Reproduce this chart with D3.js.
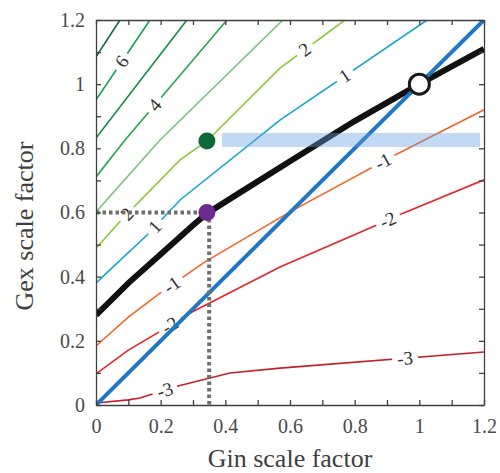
<!DOCTYPE html>
<meta charset="UTF-8">
<svg width="500" height="473"></svg>
<style>
body { margin: 0; }
svg { font-family: "Liberation Serif", "Times New Roman", serif; background: #fff; }
.axis text { font-family: "Liberation Serif", serif; font-size: 20px; fill: #4a4a4a; }
.axis path, .axis line { stroke: #404040; stroke-width: 1.3px; }
.title { font-family: "Liberation Serif", serif; font-size: 26px; fill: #404040; }
.clabel { font-family: "Liberation Serif", serif; font-size: 19px; fill: #333; }
.contour { fill: none; stroke-width: 1.6px; }
</style>
<script src="https://d3js.org/d3.v7.min.js"></script>
<script>
// axis ticks
var tickVals = [0, 0.1, 0.2, 0.3, 0.4, 0.5, 0.6, 0.7, 0.8, 0.9, 1, 1.1, 1.2];
var tickLabels = [0, 0.2, 0.4, 0.6, 0.8, 1, 1.2];

// contour lines, [Gin, Gex] points
var lvl7 = [[0, 1.085], [0.074, 1.2]];
var lvl6 = [[0, 0.951], [0.167, 1.2]];
var lvl5 = [[0, 0.832], [0.281, 1.2]];
var lvl4 = [[0, 0.711], [0.09, 0.826], [0.405, 1.2]];
var lvl3 = [[0, 0.602], [0.198, 0.826], [0.578, 1.2]];
var lvl2 = [[0, 0.489], [0.084, 0.583], [0.26, 0.764], [0.343, 0.823], [0.569, 1.05], [0.77, 1.2]];
var lvl1 = [[0, 0.38], [0.043, 0.421], [0.158, 0.53], [0.26, 0.639], [0.569, 0.888], [1.024, 1.2]];
var lvlM1 = [[0, 0.184], [0.1, 0.274], [0.2, 0.35], [0.337, 0.446], [0.6, 0.602], [0.925, 0.779], [1.2, 0.92]];
var lvlM2 = [[0, 0.097], [0.1, 0.171], [0.189, 0.224], [0.297, 0.29], [0.569, 0.43], [0.869, 0.561], [0.95, 0.598], [1.2, 0.702]];
var lvlM3 = [[0, 0.006], [0.1, 0.016], [0.136, 0.022], [0.254, 0.059], [0.414, 0.1], [0.569, 0.115], [1.2, 0.165]];

// zero line (thick black)
var zeroLine = [[0, 0.28], [0.1, 0.38], [0.2, 0.47], [0.3, 0.56], [0.343, 0.597], [0.45, 0.665], [0.6, 0.76], [0.8, 0.885], [1, 1], [1.2, 1.11]];
// identity line
var identity = [[0, 0], [1.2, 1.2]];

// level, x of label
var contourLabels = [[6, 0.08], [4, 0.182], [2, 0.096], [2, 0.646], [1, 0.182], [1, 0.77],
    [-1, 0.235], [-1, 0.888], [-2, 0.229], [-2, 0.903], [-3, 0.213], [-3, 0.956]];

// points
var greenPt = [0.343, 0.823];
var purplePt = [0.343, 0.6];
var refPt = [1, 1];
var guideX = 0.35;
var band = {x0: 0.39, x1: 1.188, y0: 0.804, y1: 0.848};

var contours = [
    {level: 7, color: "#0a6a38", pts: lvl7},
    {level: 6, color: "#10a04e", pts: lvl6},
    {level: 5, color: "#138a44", pts: lvl5},
    {level: 4, color: "#22a84a", pts: lvl4},
    {level: 3, color: "#7cc17e", pts: lvl3},
    {level: 2, color: "#8cc63e", pts: lvl2},
    {level: 1, color: "#14a7cb", pts: lvl1},
    {level: -1, color: "#f4652a", pts: lvlM1},
    {level: -2, color: "#e8232a", pts: lvlM2},
    {level: -3, color: "#c4202c", pts: lvlM3}
];

var svg = d3.select("svg");
var x = d3.scaleLinear().domain([0, 1.2]).range([96, 484]);
var y = d3.scaleLinear().domain([0, 1.2]).range([405, 20]);
var line = d3.line().x(d => x(d[0])).y(d => y(d[1]));

var defs = svg.append("defs");
defs.append("clipPath").attr("id", "plotClip")
    .append("rect").attr("x", 96).attr("y", 20).attr("width", 388).attr("height", 385);
var mask = defs.append("mask").attr("id", "labelMask")
    .attr("maskUnits", "userSpaceOnUse")
    .attr("x", 0).attr("y", 0).attr("width", 500).attr("height", 473);
mask.append("rect").attr("width", 500).attr("height", 473).attr("fill", "#fff");

var plot = svg.append("g").attr("clip-path", "url(#plotClip)");

var cg = plot.append("g").attr("mask", "url(#labelMask)");
cg.selectAll("path")
    .data(contours)
    .enter()
    .append("path")
    .attr("class", "contour")
    .attr("stroke", d => d.color)
    .attr("d", d => line(d.pts));

// labels sit on their line, rotated along it
var labelG = plot.append("g");
contourLabels.forEach(l => {
    var c = contours.find(k => k.level == l[0]);
    var f = d3.scaleLinear().domain(c.pts.map(p => p[0])).range(c.pts.map(p => p[1]));
    var px = x(l[1]), py = y(f(l[1]));
    var dx = x(l[1] + 0.01) - x(l[1] - 0.01);
    var dy = y(f(l[1] + 0.01)) - y(f(l[1] - 0.01));
    var ang = Math.atan2(dy, dx) * 180 / Math.PI;
    var t = labelG.append("text")
        .attr("class", "clabel")
        .attr("text-anchor", "middle")
        .attr("dy", "0.33em")
        .attr("transform", "translate(" + px + "," + py + ") rotate(" + ang + ")")
        .text(l[0] < 0 ? "-" + Math.abs(l[0]) : l[0]);
    var w = t.node().getComputedTextLength() + 10;
    mask.append("rect")
        .attr("x", -w / 2).attr("y", -8).attr("width", w).attr("height", 16)
        .attr("fill", "#000")
        .attr("transform", "translate(" + px + "," + py + ") rotate(" + ang + ")");
});

plot.append("path")
    .attr("d", line(zeroLine))
    .attr("fill", "none").attr("stroke", "#111").attr("stroke-width", 6);

plot.append("path")
    .attr("d", line(identity))
    .attr("fill", "none").attr("stroke", "#1f76c2").attr("stroke-width", 4);

plot.append("rect")
    .attr("x", x(band.x0)).attr("y", y(band.y1))
    .attr("width", x(band.x1) - x(band.x0))
    .attr("height", y(band.y0) - y(band.y1))
    .attr("fill", "rgb(100,160,225)").attr("fill-opacity", 0.4);

// dotted guides
svg.append("path")
    .attr("d", "M" + x(0) + "," + y(purplePt[1]) + "H" + x(purplePt[0]) +
        "M" + x(guideX) + "," + y(purplePt[1]) + "V" + y(0))
    .attr("fill", "none").attr("stroke", "#6e6e6e").attr("stroke-width", 4)
    .attr("stroke-dasharray", "3.5,3");

svg.append("circle").attr("cx", x(greenPt[0])).attr("cy", y(greenPt[1])).attr("r", 8.5)
    .attr("fill", "#0b6a38");
svg.append("circle").attr("cx", x(purplePt[0])).attr("cy", y(purplePt[1])).attr("r", 8.5)
    .attr("fill", "#6b2b90");
svg.append("circle").attr("cx", x(refPt[0])).attr("cy", y(refPt[1])).attr("r", 10)
    .attr("fill", "#fff").attr("stroke", "#1a1a1a").attr("stroke-width", 3);

// axes, ticks inward on all four sides
var fmt = d => tickLabels.some(v => Math.abs(v - d) < 1e-9) ? d3.format("~g")(d) : "";

svg.append("g").attr("class", "axis").attr("transform", "translate(0,405)")
    .call(d3.axisBottom(x).tickValues(tickVals).tickFormat(fmt).tickSizeInner(-5).tickSizeOuter(0).tickPadding(14));
svg.append("g").attr("class", "axis").attr("transform", "translate(96,0)")
    .call(d3.axisLeft(y).tickValues(tickVals).tickFormat(fmt).tickSizeInner(-5).tickSizeOuter(0).tickPadding(11));
svg.append("g").attr("class", "axis").attr("transform", "translate(0,20)")
    .call(d3.axisTop(x).tickValues(tickVals).tickFormat("").tickSizeInner(-5).tickSizeOuter(0));
svg.append("g").attr("class", "axis").attr("transform", "translate(484,0)")
    .call(d3.axisRight(y).tickValues(tickVals).tickFormat("").tickSizeInner(-5).tickSizeOuter(0));

svg.selectAll(".axis").attr("font-family", null).attr("font-size", null);

svg.append("text").attr("class", "title")
    .attr("x", 290).attr("y", 467).attr("text-anchor", "middle")
    .text("Gin scale factor");
svg.append("text").attr("class", "title")
    .attr("transform", "translate(33,226) rotate(-90)").attr("text-anchor", "middle")
    .text("Gex scale factor");
</script>
